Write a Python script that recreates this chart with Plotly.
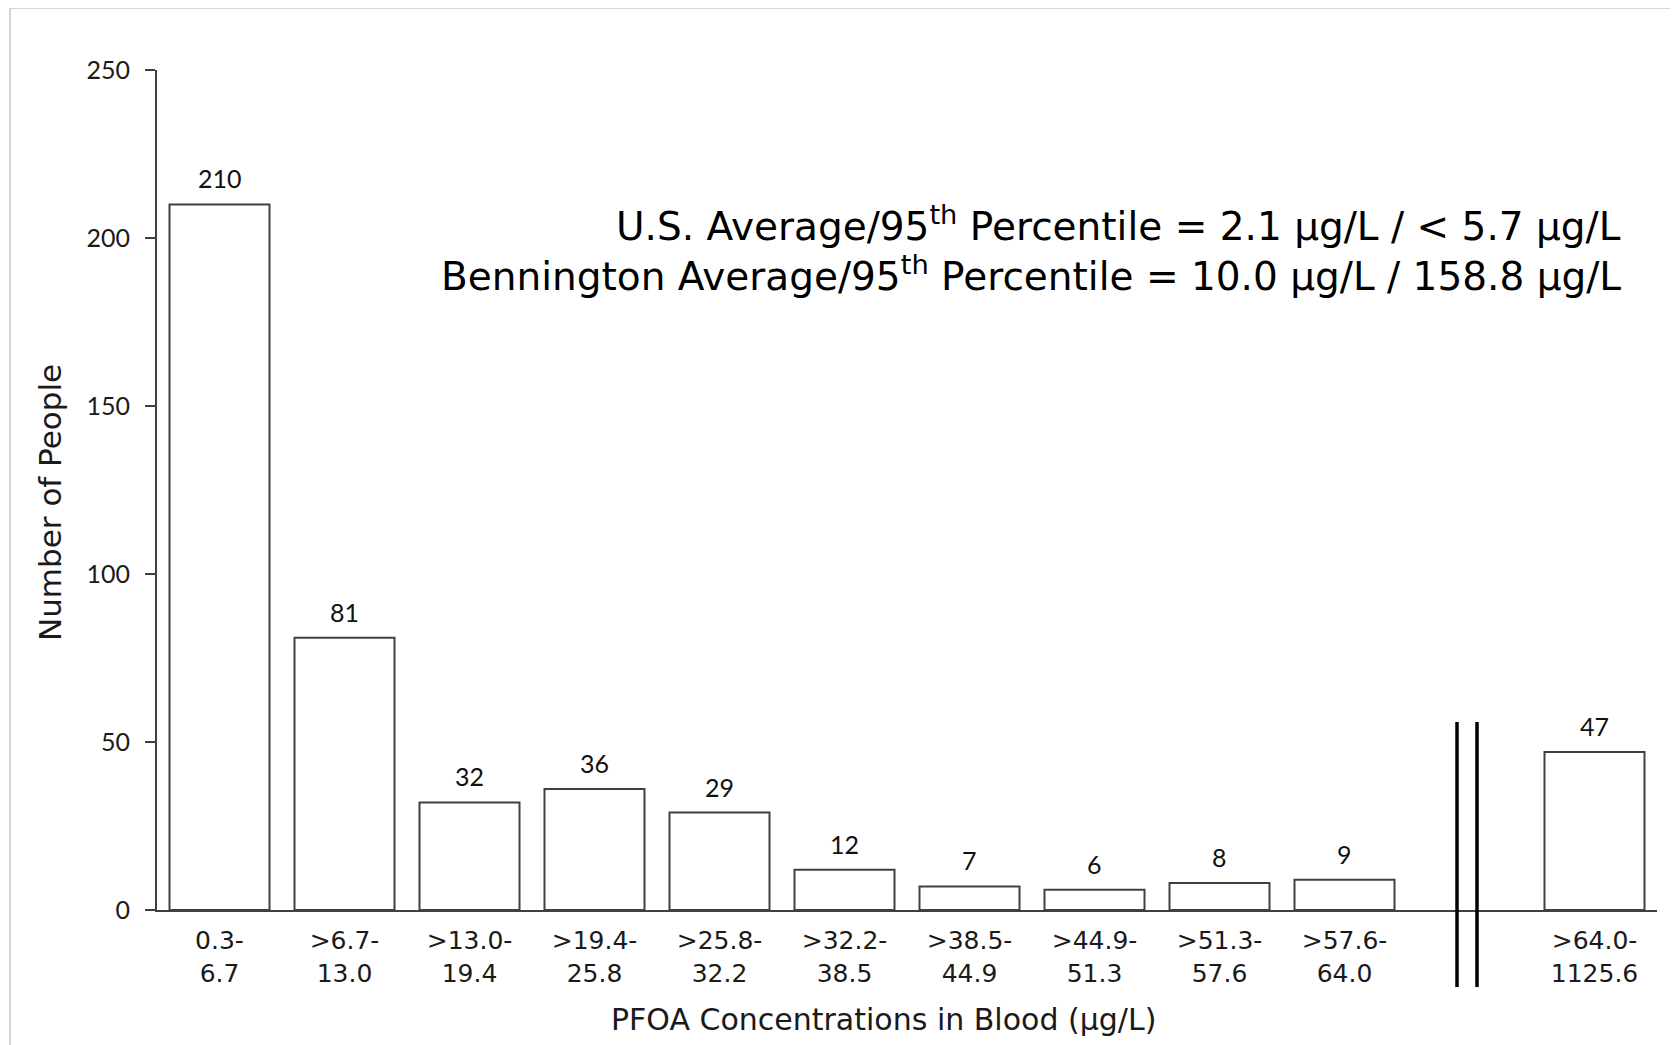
import plotly.graph_objects as go

categories = ["0.3-<br>6.7", ">6.7-<br>13.0", ">13.0-<br>19.4", ">19.4-<br>25.8", ">25.8-<br>32.2",
              ">32.2-<br>38.5", ">38.5-<br>44.9", ">44.9-<br>51.3", ">51.3-<br>57.6", ">57.6-<br>64.0",
              ">64.0-<br>1125.6"]
counts = [210, 81, 32, 36, 29, 12, 7, 6, 8, 9, 47]
y_ticks = [0, 50, 100, 150, 200, 250]
break_slot = 10  # empty slot holding the axis-break marks

positions = [i if i < break_slot else i + 1 for i in range(len(categories))]

# page is offset by the 8px body margin; figure sized to fit the window
W, H = 1670, 1037
ML, MR, MT, MB = 149, 21, 62, 135
PW, PH = W - ML - MR, H - MT - MB


def px(xo):  # reference x pixel -> paper
    return (xo - 157) / PW


def py(yo):  # reference y pixel -> paper
    return (910 - yo) / PH


fig = go.Figure()
fig.add_trace(go.Bar(
    x=positions, y=counts,
    marker=dict(color="white", line=dict(color="#404040", width=2)),
    width=0.8,
    hoverinfo="skip",
))

for xp, v in zip(positions, counts):
    fig.add_annotation(x=xp, y=v, text=str(v), showarrow=False, yanchor="bottom", yshift=9,
                       font=dict(family="Lato, sans-serif", size=25, color="#111111"))

# axis break marks
for dx in (-0.1, 0.06):
    fig.add_shape(type="line", xref="x", yref="paper", x0=break_slot + dx, x1=break_slot + dx,
                  y0=py(987), y1=py(722), line=dict(color="black", width=3.5), layer="above")

# outer frame
fig.add_shape(type="rect", xref="paper", yref="paper",
              x0=px(10), x1=1.05, y0=-0.3, y1=py(8),
              line=dict(color="#c8c8c8", width=1.5), layer="below")

fig.add_annotation(xref="paper", yref="paper", x=px(1623), y=py(224),
                   xanchor="right", yanchor="middle", showarrow=False, align="right",
                   text="U.S. Average/95<sup>th</sup> Percentile = 2.1 µg/L / < 5.7 µg/L",
                   font=dict(family="DejaVu Sans, sans-serif", size=39, color="black"))
fig.add_annotation(xref="paper", yref="paper", x=px(1623), y=py(274),
                   xanchor="right", yanchor="middle", showarrow=False, align="right",
                   text="Bennington Average/95<sup>th</sup> Percentile = 10.0 µg/L / 158.8 µg/L",
                   font=dict(family="DejaVu Sans, sans-serif", size=39, color="black"))

# axis titles
fig.add_annotation(xref="paper", yref="paper", x=px(883), y=py(1019), showarrow=False,
                   xanchor="center", yanchor="middle",
                   text="PFOA Concentrations in Blood (µg/L)",
                   font=dict(family="DejaVu Sans, sans-serif", size=30, color="#1a1a1a"))
fig.add_annotation(xref="paper", yref="paper", x=px(50), y=py(503), showarrow=False,
                   xanchor="center", yanchor="middle", textangle=-90,
                   text="Number of People",
                   font=dict(family="DejaVu Sans, sans-serif", size=31, color="#1a1a1a"))

fig.update_layout(
    width=W, height=H,
    margin=dict(l=ML, r=MR, t=MT, b=MB),
    paper_bgcolor="white", plot_bgcolor="white",
    showlegend=False,
    xaxis=dict(range=[-0.5, len(categories) + 0.5], tickvals=positions, ticktext=categories,
               showgrid=False, zeroline=False, showline=True, linecolor="#404040", linewidth=2,
               ticks="", ticklabelstandoff=7,
               tickfont=dict(family="DejaVu Sans, sans-serif", size=25, color="#1a1a1a")),
    yaxis=dict(range=[0, 250], tickvals=y_ticks, showgrid=False, zeroline=False,
               showline=True, linecolor="#404040", linewidth=2, ticks="outside", ticklen=10,
               tickcolor="#404040", tickwidth=2, ticklabelstandoff=10,
               tickfont=dict(family="Lato, sans-serif", size=25, color="#1a1a1a")),
)

fig.write_html("out.html")
